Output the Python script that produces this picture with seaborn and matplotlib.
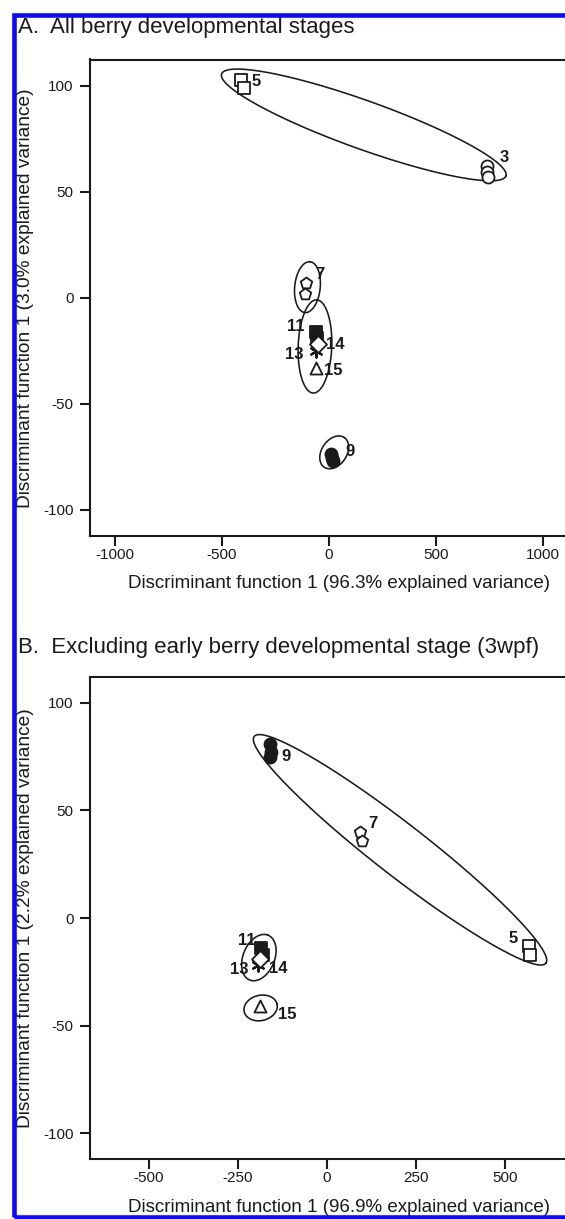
import numpy as np
import pandas as pd
import matplotlib
matplotlib.use("Agg")
import matplotlib.pyplot as plt
from matplotlib.patches import Rectangle
import seaborn as sns

# ---------------- data ----------------
# Panel A: all berry developmental stages
stage_A = ['3', '3', '3', '5', '5', '7', '7', '9', '9', '9', '11', '11', '13', '14', '15']
df1_A = [740, 737, 741, -410, -398, -108, -112, 12, 17, 14, -58, -55, -62, -52, -58]
df2_A = [62, 59.5, 57, 103, 99, 7, 2, -74, -77, -75.5, -16, -19, -25, -22, -33]

# Panel B: excluding early stage (3wpf)
stage_B = ['5', '5', '7', '7', '9', '9', '9', '11', '11', '13', '14', '15']
df1_B = [568, 570, 93, 97, -160, -158, -161, -184, -180, -193, -189, -188]
df2_B = [-13, -17, 40, 36, 81, 77, 75, -14, -17, -22, -19, -41]

# group ellipses: centre (x, y), end of major axis (x, y), minor/major ratio
ellA_cx = [163, -100, -65, 25]
ellA_cy = [81.6, 5, -23, -73]
ellA_ex = [827, -88, -57, 72]
ellA_ey = [57.5, 17, -1, -66]
ellA_r = [0.16, 0.5, 0.36, 0.7]

ellB_cx = [205, -191, -186]
ellB_cy = [31.7, -18.4, -41.8]
ellB_ex = [614, -165, -140]
ellB_ey = [-21, -8, -40]
ellB_r = [0.14, 0.65, 0.75]

xticks_A = [-1000, -500, 0, 500, 1000]
xticks_B = [-500, -250, 0, 250, 500]
yticks = [-100, -50, 0, 50, 100]

title_A = "A.  All berry developmental stages"
title_B = "B.  Excluding early berry developmental stage (3wpf)"
xlab_A = "Discriminant function 1 (96.3% explained variance)"
ylab_A = "Discriminant function 1 (3.0% explained variance)"
xlab_B = "Discriminant function 1 (96.9% explained variance)"
ylab_B = "Discriminant function 1 (2.2% explained variance)"

# ---------------- style ----------------
sns.set_theme(style="white")
plt.rcParams['font.family'] = ['Liberation Sans', 'DejaVu Sans']
INK = '#1a1a1a'

marker_style = {
    '3': dict(marker='o', fc='white'),
    '5': dict(marker='s', fc='white'),
    '7': dict(marker='p', fc='white'),
    '9': dict(marker='o', fc=INK),
    '11': dict(marker='s', fc=INK),
    '13': dict(marker=(6, 2, 0), fc=INK),
    '14': dict(marker='D', fc='white'),
    '15': dict(marker='^', fc='white'),
}

lab_off_A = {'3': (12, 14, 'left'), '5': (9, 2, 'left'), '7': (10, 14, 'left'),
             '9': (13, 6, 'left'), '11': (-12, 8, 'right'), '13': (-12, -4, 'right'),
             '14': (8, 0, 'left'), '15': (8, -3, 'left')}
lab_off_B = {'5': (-12, 12, 'right'), '7': (7, 13, 'left'), '9': (11, -6, 'left'),
             '11': (-6, 11, 'right'), '13': (-10, -4, 'right'), '14': (9, -10, 'left'),
             '15': (18, -8, 'left')}

W, H = 565, 1219
fig = plt.figure(figsize=(W / 100, H / 100), dpi=100)


def px_axes(left, top, right, bottom):
    return fig.add_axes([left / W, 1 - bottom / H, (right - left) / W, (bottom - top) / H])


A_box = (89.5, 59.5, 589, 536)
B_box = (89.5, 677, 589, 1159)
axA = px_axes(*A_box)
axB = px_axes(*B_box)

axA.set_xlim(-1118, 1215)
axA.set_ylim(-112.5, 112.5)
axB.set_xlim(-666, 735)
axB.set_ylim(-112, 112)


def draw_panel(ax, box, stages, xs, ys, offs, ell, xticks, xlab, ylab, xlab_center):
    df = pd.DataFrame({'stage': stages, 'x': xs, 'y': ys})
    for st, sub in df.groupby('stage', sort=False):
        ms = marker_style[st]
        unfilled = isinstance(ms['marker'], tuple)
        kw = dict(data=sub, x='x', y='y', ax=ax, marker=ms['marker'], s=75,
                  legend=False, zorder=3)
        if unfilled:
            sns.scatterplot(color=INK, linewidth=1.6, **kw)
        else:
            sns.scatterplot(color=INK, facecolor=ms['fc'], edgecolor=INK,
                            linewidth=1.3, **kw)
        dx, dy, ha = offs[st]
        ax.annotate(st, (sub['x'].mean(), sub['y'].mean()), xytext=(dx, dy),
                    textcoords='offset pixels', ha=ha, va='center',
                    fontsize=12, fontweight='bold', color=INK, zorder=4)
    T = ax.transData
    t = np.linspace(0, 2 * np.pi, 300)
    for cx, cy, ex, ey, r in zip(*ell):
        c = T.transform((cx, cy))
        e = T.transform((ex, ey))
        u = e - c
        v = np.array([-u[1], u[0]]) * r
        pts = c + np.outer(np.cos(t), u) + np.outer(np.sin(t), v)
        d = T.inverted().transform(pts)
        ax.plot(d[:, 0], d[:, 1], color=INK, lw=1.15, zorder=2)

    ax.set_xticks(xticks)
    ax.set_yticks(yticks)
    ax.set_xticklabels([str(v) for v in xticks])
    ax.set_yticklabels([str(v) for v in yticks])
    ax.tick_params(axis='both', direction='out', length=7, width=1.5,
                   color=INK, labelcolor=INK, labelsize=11, left=True, bottom=True)
    ax.tick_params(axis='x', pad=1.5)
    ax.tick_params(axis='y', pad=4.3)
    for s in ['left', 'top', 'bottom']:
        ax.spines[s].set_visible(True)
        ax.spines[s].set_linewidth(1.5)
        ax.spines[s].set_color(INK)
    ax.spines['right'].set_visible(False)
    left, top, right, bottom = box
    ax.set_xlabel(xlab, fontsize=13.5, color=INK, va='center')
    ax.set_ylabel(ylab, fontsize=13.8, color=INK)
    ax.xaxis.set_label_coords(0.5, (bottom - xlab_center) / (bottom - top))
    ax.yaxis.set_label_coords((34 - left) / (right - left), 0.5)
    ax.grid(False)


draw_panel(axA, A_box, stage_A, df1_A, df2_A, lab_off_A,
           (ellA_cx, ellA_cy, ellA_ex, ellA_ey, ellA_r), xticks_A, xlab_A, ylab_A, 583)
draw_panel(axB, B_box, stage_B, df1_B, df2_B, lab_off_B,
           (ellB_cx, ellB_cy, ellB_ex, ellB_ey, ellB_r), xticks_B, xlab_B, ylab_B, 1207)

fig.text(18 / W, 1 - 33.5 / H, title_A, fontsize=16, color=INK, va='baseline', ha='left')
fig.text(18 / W, 1 - 653 / H, title_B, fontsize=16, color=INK, va='baseline', ha='left')

# blue frame of the original figure panel
frame = Rectangle((13.8 / W, 1 - 1217 / H), (700 - 13.8) / W, (1217 - 15) / H,
                  transform=fig.transFigure, fill=False, edgecolor='#0a0aff',
                  linewidth=3.3, zorder=10, clip_on=False)
fig.patches.append(frame)

fig.savefig("out.png", dpi=100)
